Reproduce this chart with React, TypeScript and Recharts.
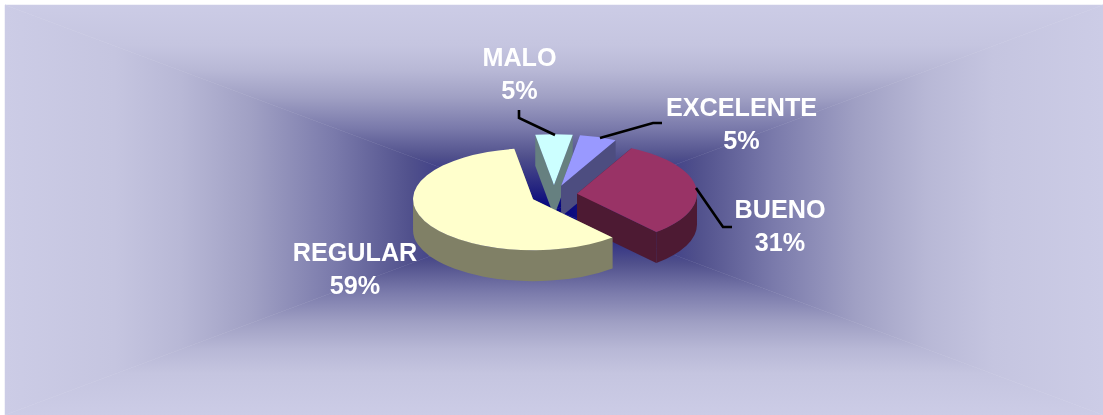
import React from "react";
import { PieChart, Pie, Cell } from "recharts";

const WIDTH = 1103;
const HEIGHT = 415;

// drawn back to front, clockwise from the top
const categories = ["MALO", "EXCELENTE", "BUENO", "REGULAR"];
const percents = [5, 5, 31, 59];
const colors = ["#CCFFFF", "#9999FF", "#993366", "#FFFFCC"];

const data = categories.map((name, i) => ({ name, value: percents[i] }));

const SQUASH = 0.425;
const DEPTH = 31;
const EXPLODE = 0.193;

const labelPos: Record<string, number[]> = {
  MALO: [519.5, 66],
  EXCELENTE: [741.5, 116],
  BUENO: [780, 218],
  REGULAR: [355, 261],
};

const leaders: Record<string, string> = {
  MALO: "555,135 519,118 519,110",
  EXCELENTE: "600,138 653,123 662,123",
  BUENO: "696,188 723,227 732,227",
};

// background: rectangular path gradient, dark in the middle
const bgStops = [
  [0, "#00007F"],
  [0.1, "#22227F"],
  [0.26, "#50508C"],
  [0.4, "#7A7AAB"],
  [0.55, "#A0A0C4"],
  [0.68, "#B8B8D6"],
  [0.8, "#C5C5E0"],
  [1, "#CCCCE6"],
];

function halfShade(hex: string) {
  const n = parseInt(hex.slice(1), 16);
  const c = (v: number) => Math.round(v / 2).toString(16).padStart(2, "0");
  return `#${c((n >> 16) & 255)}${c((n >> 8) & 255)}${c(n & 255)}`;
}

function ExplodedSlice(props: any) {
  const { cx, cy, outerRadius: r, startAngle, endAngle, midAngle, fill } = props;
  const rad = (a: number) => (a * Math.PI) / 180;
  const ox = cx + EXPLODE * r * Math.cos(rad(midAngle));
  const oy = cy - EXPLODE * r * SQUASH * Math.sin(rad(midAngle));
  const ry = r * SQUASH;
  const pt = (a: number, h = 0) =>
    `${ox + r * Math.cos(rad(a))},${oy - ry * Math.sin(rad(a)) + h}`;
  const large = startAngle - endAngle > 180 ? 1 : 0;
  const side = halfShade(fill);

  const wall = (a: number) =>
    `M${ox},${oy} L${pt(a)} L${pt(a, DEPTH)} L${ox},${oy + DEPTH} Z`;

  // only the front half of the rim can be seen
  const visStart = Math.min(startAngle, 0);
  const visEnd = Math.max(endAngle, -180);
  const rim =
    visStart > visEnd
      ? `M${pt(visStart)} A${r},${ry} 0 0 1 ${pt(visEnd)} L${pt(visEnd, DEPTH)} A${r},${ry} 0 0 0 ${pt(visStart, DEPTH)} Z`
      : null;

  return (
    <g>
      <path d={wall(startAngle)} fill={side} />
      <path d={wall(endAngle)} fill={side} />
      {rim && <path d={rim} fill={side} />}
      <path
        d={`M${ox},${oy} L${pt(startAngle)} A${r},${ry} 0 ${large} 1 ${pt(endAngle)} Z`}
        fill={fill}
      />
    </g>
  );
}

function renderLabel(props: any) {
  const [x, y] = labelPos[props.name];
  const style = { fontFamily: "Liberation Sans", fontWeight: 700, fontSize: 25.2 };
  return (
    <g key={props.name}>
      <text x={x} y={y} textAnchor="middle" fill="#FFFFFF" style={style}>{props.name}</text>
      <text x={x} y={y + 33} textAnchor="middle" fill="#FFFFFF" style={style}>{`${props.value}%`}</text>
    </g>
  );
}

function renderLeader(props: any) {
  const points = leaders[props.name];
  if (!points) return <g key="none" />;
  return <polyline key={props.name} points={points} fill="none" stroke="#000000" strokeWidth={2.6} />;
}

function Background() {
  const mx = (5 + WIDTH) / 2;
  const my = (5 + HEIGHT) / 2;
  const sides = [
    { id: "l", x2: 5, y2: my, pts: `${mx},${my} 5,5 5,${HEIGHT}` },
    { id: "r", x2: WIDTH, y2: my, pts: `${mx},${my} ${WIDTH},5 ${WIDTH},${HEIGHT}` },
    { id: "t", x2: mx, y2: 5, pts: `${mx},${my} 5,5 ${WIDTH},5` },
    { id: "b", x2: mx, y2: HEIGHT, pts: `${mx},${my} 5,${HEIGHT} ${WIDTH},${HEIGHT}` },
  ];
  return (
    <svg width={WIDTH} height={HEIGHT} style={{ position: "absolute", left: 0, top: 0 }}>
      <defs>
        {sides.map((s) => (
          <linearGradient key={s.id} id={`bg-${s.id}`} gradientUnits="userSpaceOnUse" x1={mx} y1={my} x2={s.x2} y2={s.y2}>
            {bgStops.map(([o, c]) => (
              <stop key={o as number} offset={o as number} stopColor={c as string} />
            ))}
          </linearGradient>
        ))}
      </defs>
      {sides.map((s) => (
        <polygon key={s.id} points={s.pts} fill={`url(#bg-${s.id})`} stroke={`url(#bg-${s.id})`} strokeWidth={0.5} />
      ))}
    </svg>
  );
}

export default function App() {
  return (
    <div style={{ position: "fixed", left: 0, top: 0, width: WIDTH, height: HEIGHT, overflow: "hidden" }}>
      <Background />
      <div style={{ position: "absolute", left: 0, top: 0 }}>
        <PieChart width={WIDTH} height={HEIGHT} margin={{ top: 0, right: 0, bottom: 0, left: 0 }}>
          <Pie
            data={data}
            dataKey="value"
            nameKey="name"
            cx={554}
            cy={195}
            innerRadius={0}
            outerRadius={120}
            startAngle={99}
            endAngle={-261}
            stroke="none"
            shape={ExplodedSlice}
            activeShape={ExplodedSlice}
            inactiveShape={ExplodedSlice}
            label={renderLabel}
            labelLine={renderLeader}
            isAnimationActive={false}
          >
            {categories.map((c, i) => (
              <Cell key={c} fill={colors[i]} />
            ))}
          </Pie>
        </PieChart>
      </div>
    </div>
  );
}
